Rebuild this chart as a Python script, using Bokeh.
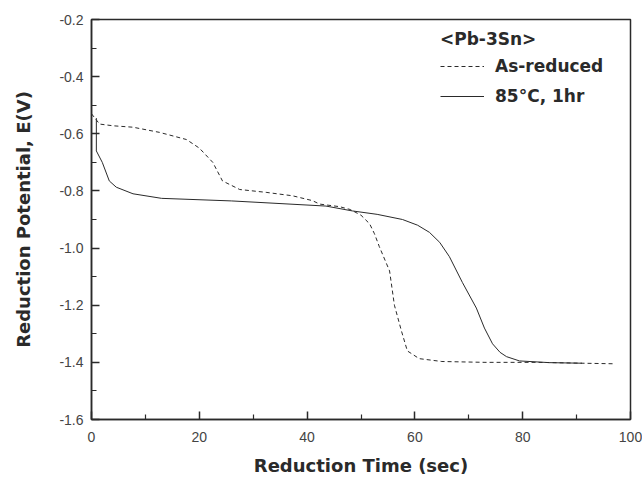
from bokeh.plotting import figure
from bokeh.models import Range1d, Legend, LegendItem, FixedTicker, PrintfTickFormatter
from bokeh.embed import file_html
from bokeh.resources import INLINE

# As-reduced (dashed)
t_asred = [0, 1.5, 4, 7.7, 12.6, 17.6, 20, 22.5, 24.3, 27.5, 32.4, 37.3, 41, 42.3, 46, 48, 50,
           51.6, 52.5, 53.4, 55.3, 56.2, 57.5, 58.6, 60.8, 65, 73, 83, 91, 97]
e_asred = [-0.53, -0.566, -0.572, -0.577, -0.595, -0.62, -0.65, -0.70, -0.765, -0.795, -0.805,
           -0.817, -0.834, -0.846, -0.855, -0.865, -0.885, -0.915, -0.95, -0.995, -1.08, -1.20,
           -1.29, -1.36, -1.387, -1.397, -1.40, -1.40, -1.403, -1.405]

# 85C, 1hr (solid)
t_heat = [0.9, 0.9, 2.0, 3.3, 4.6, 7.7, 13, 26, 43.5, 48.4, 53, 57.7, 60.5, 62.7, 64.6, 66.4,
          68.8, 71.4, 72.9, 74.4, 75.8, 77, 79.4, 85, 91]
e_heat = [-0.545, -0.66, -0.70, -0.765, -0.787, -0.81, -0.826, -0.835, -0.853, -0.87, -0.882,
          -0.90, -0.92, -0.945, -0.98, -1.03, -1.12, -1.21, -1.28, -1.335, -1.365, -1.38,
          -1.395, -1.401, -1.403]

x_ticks = [0, 20, 40, 60, 80, 100]
x_minor = [10, 30, 50, 70, 90]
y_ticks = [-1.6, -1.4, -1.2, -1.0, -0.8, -0.6, -0.4, -0.2]
y_minor = [-1.5, -1.3, -1.1, -0.9, -0.7, -0.5, -0.3]

TICK_FONT = "Liberation Sans"
TITLE_FONT = "DejaVu Sans"
INK = "#2a2a2a"

p = figure(width=642, height=478, output_backend="svg", toolbar_location=None,
           x_range=Range1d(0, 100), y_range=Range1d(-1.6, -0.2),
           min_border_left=91, min_border_right=12, min_border_top=19, min_border_bottom=58)
p.grid.visible = False
p.outline_line_color = INK
p.outline_line_width = 1.5
p.background_fill_color = "white"
p.border_fill_color = "white"

l1 = p.line(t_asred, e_asred, line_color=INK, line_width=1, line_dash="4 3")
l2 = p.line(t_heat, e_heat, line_color=INK, line_width=1)

def style(ax):
    ax.major_tick_in = 8
    ax.major_tick_out = 0
    ax.minor_tick_in = 5
    ax.minor_tick_out = 0
    ax.axis_line_color = INK
    ax.axis_line_width = 1.5
    ax.major_tick_line_color = INK
    ax.major_tick_line_width = 1.5
    ax.minor_tick_line_color = INK
    ax.minor_tick_line_width = 1.2
    ax.major_label_text_font = TICK_FONT
    ax.major_label_text_font_size = "14px"
    ax.major_label_text_color = "#444444"
    ax.axis_label_text_font = TITLE_FONT
    ax.axis_label_text_font_size = "18px"
    ax.axis_label_text_font_style = "bold"
    ax.axis_label_text_color = INK

xax = p.xaxis[0]
yax = p.yaxis[0]
xax.ticker = FixedTicker(ticks=x_ticks, minor_ticks=x_minor)
yax.ticker = FixedTicker(ticks=y_ticks, minor_ticks=y_minor)
yax.formatter = PrintfTickFormatter(format="%.1f")
xax.axis_label = "Reduction Time (sec)"
yax.axis_label = "Reduction Potential, E(V)"
style(xax)
style(yax)
xax.major_label_standoff = 12
xax.axis_label_standoff = 10
yax.major_label_standoff = 8
yax.axis_label_standoff = 22

legend = Legend(items=[LegendItem(label="As-reduced", renderers=[l1]),
                       LegendItem(label="85\u00b0C, 1hr", renderers=[l2])],
                location="top_right", title="<Pb-3Sn>")
legend.title_text_font = TITLE_FONT
legend.title_text_font_size = "17px"
legend.title_text_font_style = "bold"
legend.title_text_color = INK
legend.title_standoff = 7
legend.label_text_font = TITLE_FONT
legend.label_text_font_size = "17px"
legend.label_text_font_style = "bold"
legend.label_text_color = INK
legend.border_line_alpha = 0
legend.background_fill_alpha = 0
legend.glyph_width = 44
legend.glyph_height = 20
legend.label_height = 20
legend.label_width = 125
legend.label_standoff = 11
legend.spacing = 10
legend.margin = 10
legend.padding = 0
p.add_layout(legend)

open("out.html", "w").write(file_html(p, INLINE))
